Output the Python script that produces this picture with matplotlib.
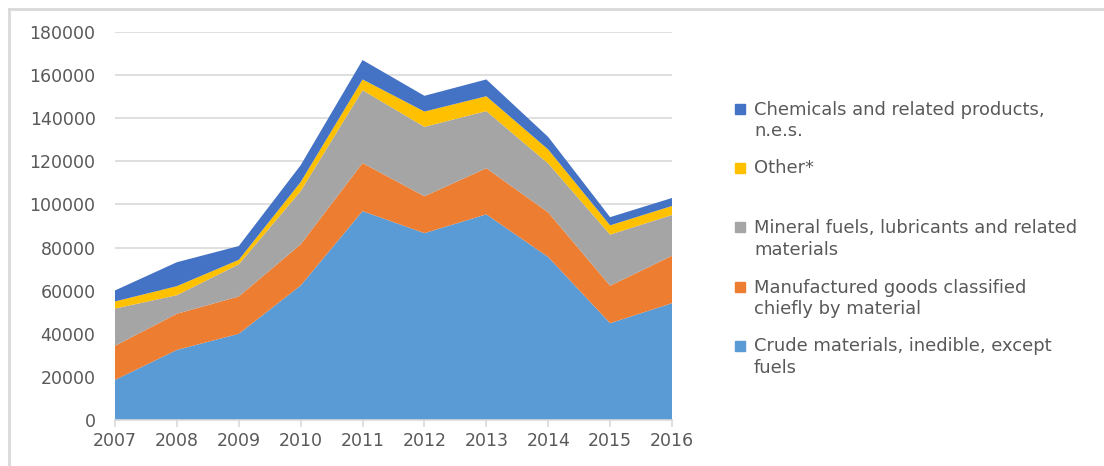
import matplotlib
matplotlib.use("Agg")
import matplotlib.pyplot as plt
from matplotlib.patches import Rectangle
from matplotlib.lines import Line2D
import numpy as np

years = [2007, 2008, 2009, 2010, 2011, 2012, 2013, 2014, 2015, 2016]
crude = [18600, 32500, 40000, 62400, 96900, 86700, 95400, 75600, 44900, 54200]
manufactured = [15800, 16800, 17300, 19100, 22300, 17100, 21400, 20700, 17400, 22000]
mineral = [17300, 8600, 14900, 24700, 33800, 32200, 26500, 22700, 23700, 18900]
other = [3300, 4200, 2100, 4200, 5000, 7100, 6900, 6500, 4300, 4200]
chemicals = [5100, 11100, 6400, 7800, 9000, 7300, 7800, 5800, 3800, 3700]

series = [crude, manufactured, mineral, other, chemicals]
labels = ["Crude materials, inedible, except\nfuels",
          "Manufactured goods classified\nchiefly by material",
          "Mineral fuels, lubricants and related\nmaterials",
          "Other*",
          "Chemicals and related products,\nn.e.s."]
colors = ["#5B9BD5", "#ED7D31", "#A5A5A5", "#FFC000", "#4472C4"]
yticks = list(range(0, 180001, 20000))

plt.rcParams['font.family'] = ['DejaVu Sans']
W, H = 1104, 466
fig = plt.figure(figsize=(W / 100, H / 100), dpi=100)
ax = fig.add_axes([115 / W, 1 - 420 / H, (672 - 115) / W, (420 - 32) / H])

ax.stackplot(years, *series, colors=colors, linewidth=0)
ax.set_xlim(years[0], years[-1])
ax.set_ylim(0, 180000)
ax.set_yticks(yticks)
ax.set_yticklabels([str(v) for v in yticks])
ax.set_xticks(years)
ax.set_xticklabels([str(y) for y in years])
ax.grid(axis='y', color='#D9D9D9', linewidth=1.2)
ax.set_axisbelow(True)
for s in ['top', 'right', 'left']:
    ax.spines[s].set_visible(False)
ax.spines['bottom'].set_color('#D9D9D9')
ax.spines['bottom'].set_linewidth(1.2)
ax.tick_params(axis='y', length=0, pad=14, labelsize=12.5, labelcolor='#595959')
ax.tick_params(axis='x', length=5, color='#D9D9D9', width=1.2, pad=4,
               labelsize=12.5, labelcolor='#595959')

# legend (top to bottom in reverse series order)
centers = [357, 298.5, 239, 168, 120.5]
for lab, col, cy in zip(labels, colors, centers):
    nlines = lab.count("\n") + 1
    sq_y = cy - (nlines - 1) * 11.5
    fig.patches.append(Rectangle((735 / W, 1 - (sq_y + 5) / H), 10 / W, 10 / H,
                                 transform=fig.transFigure, color=col, figure=fig))
    fig.text(754 / W, 1 - cy / H, lab, va='center', ha='left', fontsize=12.9,
             color='#595959', linespacing=1.25)

# outer frame lines
fig.add_artist(Line2D([9 / W, 1], [1 - 9 / H, 1 - 9 / H], color='#D9D9D9', linewidth=2,
                      transform=fig.transFigure))
fig.add_artist(Line2D([9 / W, 9 / W], [0, 1 - 9 / H], color='#D9D9D9', linewidth=2,
                      transform=fig.transFigure))

fig.savefig("out.png", dpi=100)
